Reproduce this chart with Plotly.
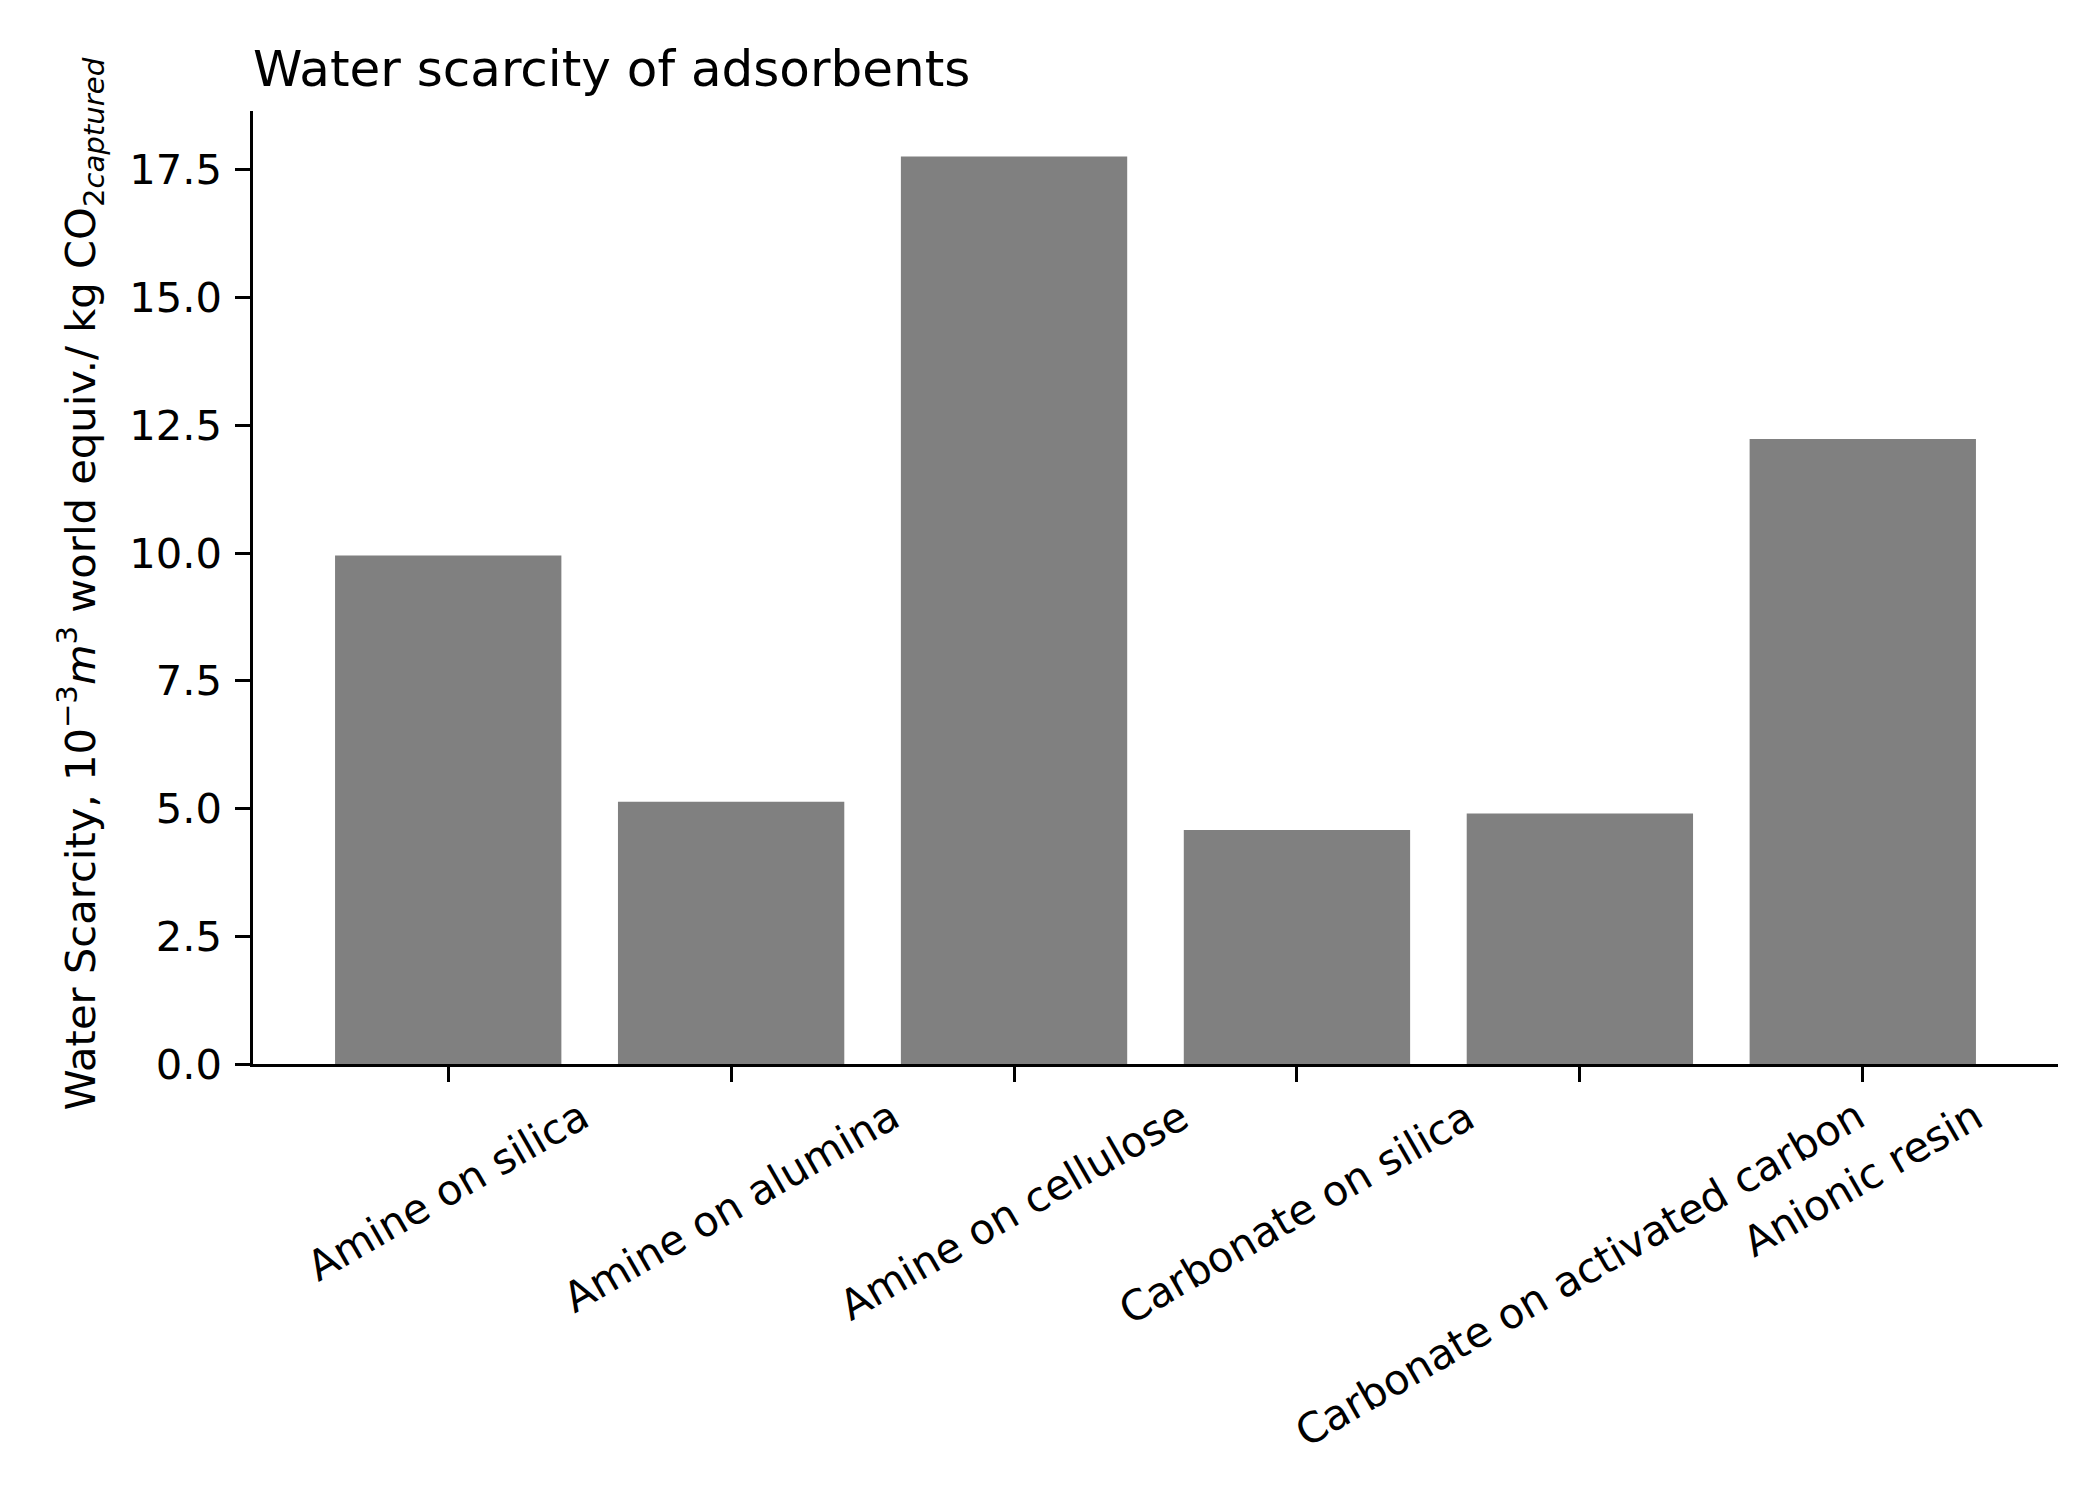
import plotly.graph_objects as go

# adsorbent categories and water scarcity values (10^-3 m3 world equiv. / kg CO2 captured)
categories = [
    "Amine on silica",
    "Amine on alumina",
    "Amine on cellulose",
    "Carbonate on silica",
    "Carbonate on activated carbon",
    "Anionic resin",
]
values = [9.95, 5.13, 17.76, 4.58, 4.90, 12.23]
ytick_vals = [0, 2.5, 5, 7.5, 10, 12.5, 15, 17.5]

FONT = "DejaVu Sans"
TICK_PX = 41.67   # 10 pt at 300 dpi
TITLE_PX = 50     # 12 pt at 300 dpi

fig = go.Figure()
fig.add_trace(go.Bar(x=categories, y=values, width=0.8,
                     marker=dict(color="#808080", line=dict(width=0)),
                     showlegend=False))

# rotated category labels, centred on their ticks like matplotlib
for cat in categories:
    fig.add_annotation(x=cat, xref="x", y=0, yref="paper",
                       text=cat, textangle=-30, showarrow=False,
                       xanchor="center", yanchor="top", yshift=-24,
                       font=dict(family=FONT, size=TICK_PX, color="black"))

ylabel = ("Water Scarcity, 10<sup>−3</sup><i>m</i><sup>3</sup> world equiv./ kg "
          "CO<sub>2<i>captured</i></sub>")
fig.add_annotation(x=0, xref="paper", y=0.5, yref="paper", text=ylabel,
                   textangle=-90, showarrow=False, xanchor="center",
                   yanchor="middle", yshift=3, xshift=-173,
                   font=dict(family=FONT, size=TICK_PX, color="black"))

fig.update_layout(
    width=2100, height=1500, autosize=False,
    margin=dict(l=245, r=50, t=103, b=444),
    paper_bgcolor="white", plot_bgcolor="white",
    font=dict(family=FONT, size=TICK_PX, color="black"),
    title=dict(text="Water scarcity of adsorbents", x=0, xref="paper",
               xanchor="left", y=1 - 60 / 1500, yref="container",
               yanchor="middle",
               font=dict(family=FONT, size=TITLE_PX, color="black")),
    bargap=0.2,
)
fig.update_xaxes(type="category", range=[-0.69, 5.69], showgrid=False,
                 zeroline=False, showline=True, linecolor="black",
                 linewidth=3.3, ticks="outside", ticklen=14.6, tickwidth=3.3,
                 tickcolor="black", showticklabels=False)
fig.update_yaxes(range=[0, 18.65], showgrid=False, zeroline=False,
                 showline=True, linecolor="black", linewidth=3.3,
                 ticks="outside", ticklen=14.6, tickwidth=3.3,
                 tickcolor="black", tickvals=ytick_vals, tickformat=".1f",
                 ticklabelstandoff=5,
                 tickfont=dict(family=FONT, size=TICK_PX, color="black"))

fig.write_html("out.html")
